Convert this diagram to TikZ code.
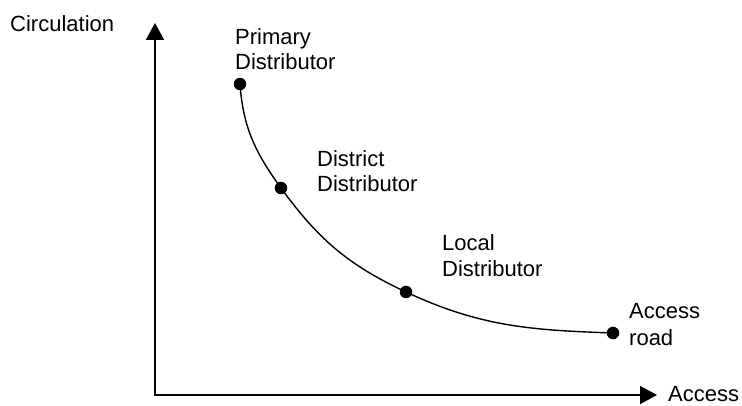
\documentclass[tikz,border=0pt]{standalone}
\usepackage{fontspec}
\setmainfont{Liberation Sans}
\usetikzlibrary{arrows.meta}
\begin{document}
\begin{tikzpicture}[x=1pt,y=1pt,
  lbl/.style={anchor=base west, inner sep=0pt, font=\fontsize{22}{26}\selectfont},
  axisline/.style={line width=2pt, -{Triangle[length=17pt,width=18pt]}},
  curveline/.style={line width=1.4pt},
  dot/.style={circle, fill=black, inner sep=0pt, minimum size=12.5pt}]
\useasboundingbox (0,0) rectangle (742,406);
% axes
\coordinate (O) at (155,11);
\coordinate (Ytip) at (155,383);
\coordinate (Xtip) at (657,11);
\draw[axisline] ([yshift=-1pt]O) -- (Ytip);
\draw[axisline] ([xshift=-1pt]O) -- (Xtip);
% points
\node[dot] (P) at (240,322) {};
\node[dot] (D) at (281,218) {};
\node[dot] (L) at (406,114) {};
\node[dot] (A) at (613,73) {};
\draw[curveline] (P.center) to[out=-86,in=126] (D.center)
  to[out=-54,in=155] (L.center)
  to[out=-25,in=178] (A.center);
% labels
\node[lbl] (circ) at (10,374) {Circulation};
\node[lbl] (acc) at (668,4) {Access};
\node[lbl] (p1) at (235,361) {Primary};
\node[lbl] (p2) at (235,336) {Distributor};
\node[lbl] (d1) at (317,239) {District};
\node[lbl] (d2) at (317,214) {Distributor};
\node[lbl] (l1) at (442,155) {Local};
\node[lbl] (l2) at (442,129) {Distributor};
\node[lbl] (a1) at (629,87) {Access};
\node[lbl] (a2) at (629,60) {road};
\end{tikzpicture}
\end{document}
